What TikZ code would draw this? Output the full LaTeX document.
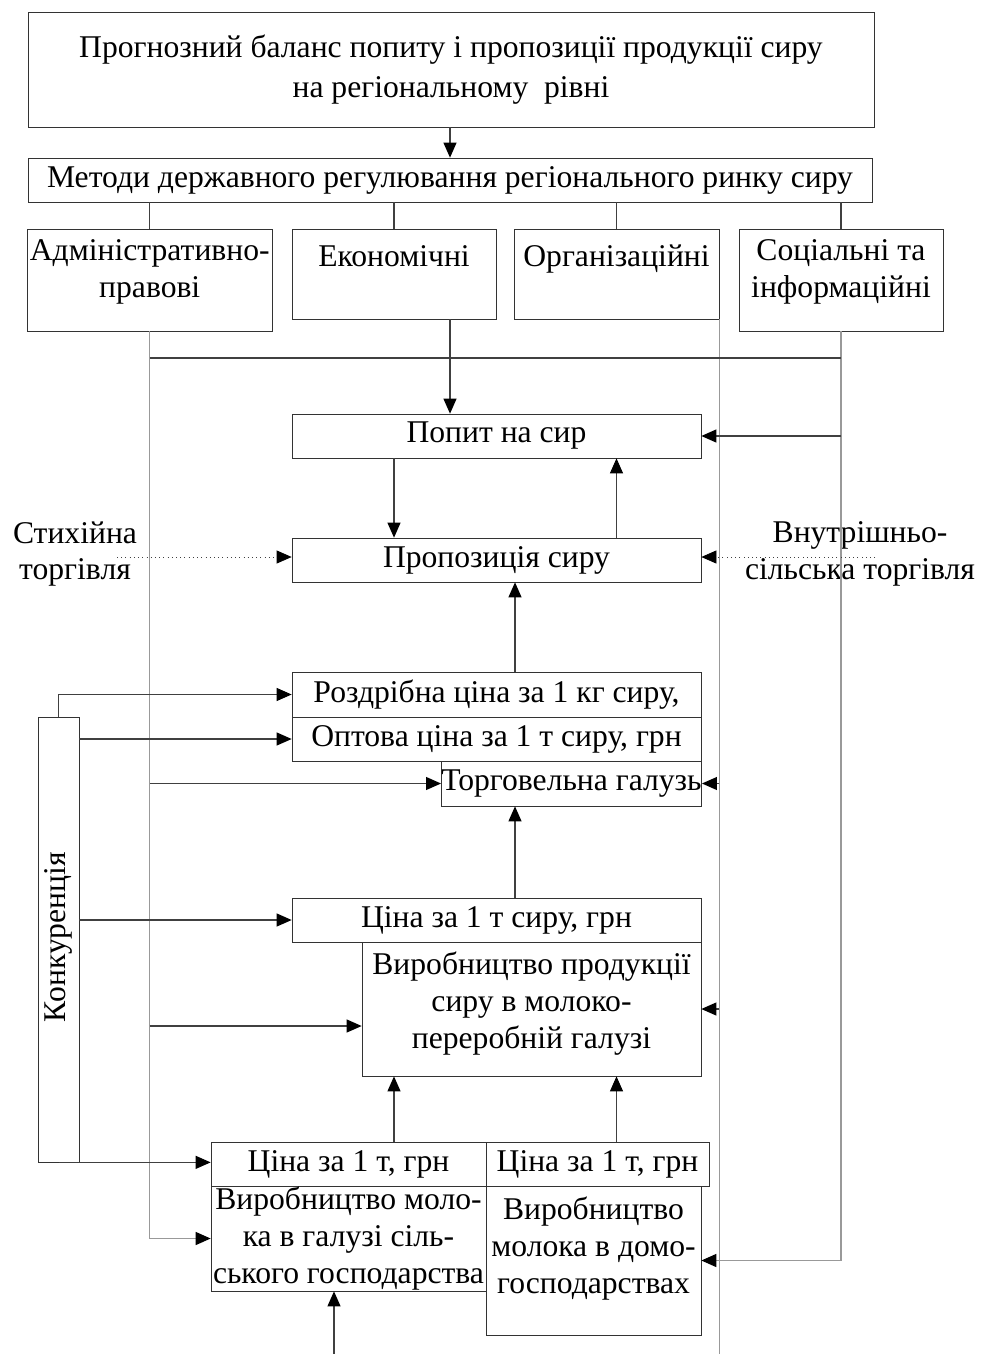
\documentclass[tikz,border=0pt]{standalone}
\usepackage{fontspec}
\setmainfont{Liberation Serif}
\usetikzlibrary{arrows.meta}

\tikzset{
  box/.style={draw=black!80, rectangle, align=center, inner sep=0pt, font=\fontsize{18}{21}\selectfont},
  word/.style={align=center, inner sep=0pt, font=\fontsize{18}{21}\selectfont},
  link/.style={draw=black!75, line width=0.6pt},
  bus/.style={draw=black!40, line width=0.8pt},
  arr/.style={-{Triangle[length=0.3cm,width=0.26cm,color=black]}},
  dots/.style={dotted, draw=black!75}
}

\begin{document}
\begin{tikzpicture}
        \useasboundingbox (0,0) rectangle (19.6,-27.08);

        \node[box, minimum width=16.92cm, minimum height=2.3cm] (top) at (9.02,-1.39)
             {Прогнозний баланс попиту і пропозиції продукції сиру\\[2pt]на регіональному \ рівні};
        \node[box, minimum width=16.88cm, minimum height=0.88cm] (methods) at (9.0,-3.6)
             {Методи державного регулювання регіонального ринку сиру};

        \node[box, minimum width=4.89cm, minimum height=2.04cm] (adm) at (2.995,-5.6)
             {Адміністративно-\\правові\\[-8pt]\mbox{}};
        \node[box, minimum width=4.08cm, minimum height=1.8cm] (econ) at (7.88,-5.48)
             {Економічні\\\mbox{}};
        \node[box, minimum width=4.1cm, minimum height=1.8cm] (org) at (12.33,-5.48)
             {Організаційні\\\mbox{}};
        \node[box, minimum width=4.08cm, minimum height=2.04cm] (soc) at (16.82,-5.6)
             {Соціальні та\\інформаційні\\[-8pt]\mbox{}};

        \node[box, minimum width=8.18cm, minimum height=0.88cm] (popyt) at (9.93,-8.72) {Попит на сир};
        \node[box, minimum width=8.18cm, minimum height=0.88cm] (propoz) at (9.93,-11.2) {Пропозиція сиру};
        \node[word] (stykh) at (1.5,-11.08) {Стихійна\\торгівля};
        \node[word] (vnutr) at (17.2,-11.08) {Внутрішньо-\\сільська торгівля};

        \node[box, minimum width=8.18cm, minimum height=0.9cm] (rozdr) at (9.93,-13.89) {Роздрібна ціна за 1 кг сиру,};
        \node[box, minimum width=8.18cm, minimum height=0.88cm] (optova) at (9.93,-14.78) {Оптова ціна за 1 т сиру, грн};
        \node[box, minimum width=5.18cm, minimum height=0.9cm] (torg) at (11.43,-15.67) {Торговельна галузь};

        \node[box, minimum width=8.18cm, minimum height=0.88cm] (cinasyr) at (9.93,-18.4) {Ціна за 1 т сиру, грн};
        \node[box, minimum width=6.78cm, minimum height=2.68cm] (vyrsyr) at (10.63,-20.18)
             {Виробництво продукції\\сиру в молоко-\\переробній галузі\\[-11pt]\mbox{}};

        \node[box, minimum width=5.5cm, minimum height=0.88cm] (cinaA) at (6.97,-23.28) {Ціна за 1 т, грн};
        \node[box, minimum width=4.46cm, minimum height=0.88cm] (cinaB) at (11.95,-23.28) {Ціна за 1 т, грн};
        \node[box, minimum width=5.5cm, minimum height=2.1cm] (molA) at (6.97,-24.77)
             {Виробництво моло-\\ка в галузі сіль-\\ського господарства};
        \node[box, minimum width=4.3cm, minimum height=2.98cm] (molB) at (11.87,-25.21)
             {Виробництво\\молока в домо-\\господарствах\\[-4pt]\mbox{}};

        \node[box, minimum width=0.82cm, minimum height=8.9cm] (konk) at (1.17,-18.79) {};
        \node[word, rotate=90] (konklabel) at (1.17,-18.74) {Конкуренція};

        \coordinate (bus) at (0,-7.16);
        \coordinate (axis) at (10.3,0);
        \coordinate (bottom) at (0,-27.08);
        \coordinate (stykhend) at (2.34,-11.14);
        \coordinate (vnutrend) at (17.5,-11.14);
        \coordinate (milkin) at (6.68,-27.08);

        % methods and their lines
        \path[link] (top.south -| methods) edge[arr] (methods.north);
        \foreach \m in {adm, econ, org, soc}
            \path[link] (\m.north |- methods.south) edge (\m.north);
        \draw[bus, arr] (adm.south) |- (molA.west);
        \draw[bus, arr] (soc.south) |- (molB.east);
        \draw[bus] (org.south east) -- (org.south east |- bottom);
        \path[link] (adm.south |- bus) edge (soc.south |- bus);

        % demand and supply
        \path[link] (econ.south -| methods) edge[arr] (popyt.north -| methods)
              (popyt.south -| econ) edge[arr] (propoz.north -| econ)
              (propoz.north -| org) edge[arr] (popyt.south -| org)
              (popyt.east -| soc) edge[arr] (popyt.east)
              (rozdr.north -| axis) edge[arr] (propoz.south -| axis)
              (cinasyr.north -| axis) edge[arr] (torg.south -| axis)
              (cinaA.north -| econ) edge[arr] (vyrsyr.south -| econ)
              (cinaB.north -| org) edge[arr] (vyrsyr.south -| org)
              (milkin) edge[arr] (molA.south -| milkin);
        \path[dots] (stykhend) edge[arr] (propoz.west |- stykhend)
              (vnutrend) edge[arr] (propoz.east |- vnutrend);

        % competition
        \draw[link, arr] (konk.north) |- (rozdr.west);
        \path[link] (konk.east |- optova.west) edge[arr] (optova.west)
              (konk.east |- cinasyr.west) edge[arr] (cinasyr.west)
              (konk.south) edge[arr] (konk.south -| cinaA.west);

        % regulation inputs
        \path[link] (torg.west -| adm) edge[arr] (torg.west)
              ([yshift=-0.34cm]vyrsyr.west -| adm) edge[arr] ([yshift=-0.34cm]vyrsyr.west)
              (torg.east -| org.south east) edge[arr] (torg.east)
              (vyrsyr.east -| org.south east) edge[arr] (vyrsyr.east);
    \end{tikzpicture}
\end{document}
